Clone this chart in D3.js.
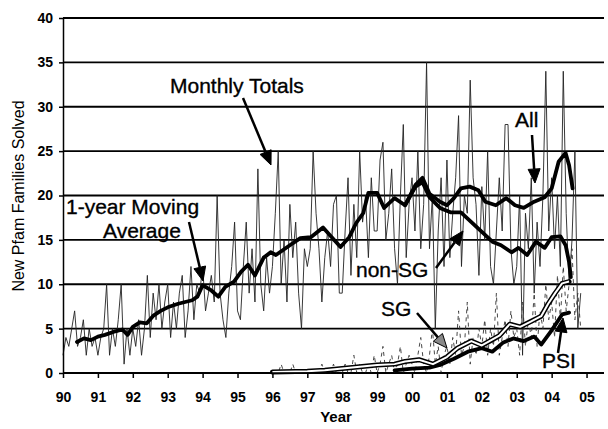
<!DOCTYPE html>
<html>
<head>
<meta charset="utf-8">
<script src="https://cdn.jsdelivr.net/npm/d3@7"></script>
<style>
  body { margin: 0; background: #fff; }
  svg { font-family: "Liberation Sans", Arial, sans-serif; }
  .axis text { font-size: 14px; font-weight: bold; fill: #000; }
  .axis path, .axis line { stroke: #000; stroke-width: 1.5; }
  .note { font-size: 21px; fill: #000; stroke: #000; stroke-width: 0.35; }
</style>
</head>
<body>
<script>
// monthly totals, all families, Jan 1990 onwards
const monthlyAll = [
  2, 4, 3, 5, 7, 3, 4, 6, 2, 5, 3, 4,
  2, 4, 5, 10, 2, 5, 3, 6, 10, 1, 5, 2,
  5, 3, 6, 2, 5, 11, 4, 9, 6, 10, 5, 8,
  10, 4, 8, 5, 9, 11, 4, 7, 12, 6, 10, 9,
  12, 7, 9, 11, 8, 20, 9, 6, 4, 9, 12, 17,
  7, 6, 12, 17, 9, 14, 8, 23, 10, 7, 13, 9,
  12, 18, 25, 10, 15, 8, 19, 13, 17, 9, 5, 14,
  12, 14, 25, 18, 14, 8, 13, 16, 12, 19, 20, 9,
  9, 16, 22, 11, 19, 13, 25, 17, 20, 13, 22, 16,
  16, 24, 26, 15, 18, 23, 14, 10, 20, 28, 13, 19,
  22, 16, 25, 14, 19, 35, 14, 20, 5, 16, 22, 12,
  24, 13, 18, 22, 29, 12, 20, 18, 33, 22, 19, 11,
  21, 15, 25, 12, 10, 16, 22, 16, 28, 28, 14, 10,
  12, 20, 2, 18, 14, 22, 9, 17, 12, 20, 34, 16,
  22, 14, 20, 12, 34, 18, 10, 15, 25, 5, 9
];

// monthly totals, structural genomics, Jan 1996 onwards
const monthlySG = [
  0, 0, 0, 1, 0, 0, 0, 1, 0, 0, 0, 0,
  0, 0, 0, 0, 0, 1, 0, 0, 0, 1, 0, 0,
  0, 1, 0, 0, 2, 0, 1, 0, 0, 1, 0, 2,
  0, 1, 3, 0, 1, 2, 0, 1, 3, 0, 1, 2,
  1, 0, 2, 4, 1, 0, 2, 5, 1, 3, 0, 2,
  3, 1, 4, 2, 7, 2, 3, 8, 1, 4, 2, 5,
  3, 6, 2, 5, 3, 9, 2, 4, 6, 3, 7, 4,
  5, 2, 8, 3, 6, 4, 9, 3, 7, 5, 10, 6,
  8, 4, 11, 6, 12, 7, 10, 14, 6, 9, 5
];

// 1-year moving averages [year, value]
const avgAll = [
  [1990.4, 3.5], [1990.6, 3.9], [1990.8, 3.7], [1991.0, 4.1], [1991.2, 4.3],
  [1991.5, 4.7], [1991.7, 4.9], [1991.85, 4.3], [1992.0, 5.2], [1992.2, 5.7],
  [1992.4, 5.6], [1992.6, 6.5], [1992.8, 7.0], [1993.0, 7.4], [1993.3, 7.8],
  [1993.5, 8.0], [1993.7, 8.2], [1993.85, 8.6], [1994.0, 9.9], [1994.25, 9.3],
  [1994.45, 8.6], [1994.65, 9.7], [1994.9, 10.3], [1995.1, 11.4], [1995.3, 12.2],
  [1995.5, 11.0], [1995.75, 13.0], [1995.95, 13.6], [1996.1, 13.3], [1996.5, 14.4],
  [1996.8, 15.2], [1997.1, 15.3], [1997.45, 16.4], [1997.7, 15.3], [1997.95, 14.2],
  [1998.2, 15.3], [1998.4, 16.9], [1998.6, 18.0], [1998.75, 20.3], [1999.0, 20.3],
  [1999.2, 18.6], [1999.5, 19.7], [1999.8, 18.9], [2000.1, 21.2], [2000.3, 22.0],
  [2000.5, 20.2], [2000.8, 19.3], [2001.0, 18.9], [2001.2, 19.7], [2001.4, 20.8],
  [2001.65, 21.0], [2001.9, 20.6], [2002.1, 19.3], [2002.4, 18.9], [2002.7, 19.7],
  [2002.95, 18.9], [2003.2, 18.6], [2003.5, 19.3], [2003.8, 19.8], [2004.0, 20.8],
  [2004.2, 23.8], [2004.4, 24.8], [2004.5, 23.4], [2004.6, 20.8]
];
const avgNonSG = [
  [1999.8, 18.9], [2000.1, 21.0], [2000.3, 21.5], [2000.5, 19.8], [2000.8, 18.6],
  [2001.1, 18.1], [2001.4, 18.1], [2001.7, 17.0], [2002.0, 15.9], [2002.3, 14.8],
  [2002.55, 14.4], [2002.85, 13.6], [2003.05, 14.1], [2003.3, 13.3], [2003.55, 14.8],
  [2003.8, 14.1], [2004.0, 15.3], [2004.25, 15.4], [2004.4, 14.4], [2004.5, 12.5],
  [2004.55, 10.8]
];
const avgSG = [
  [1996.0, 0.1], [1997.0, 0.2], [1997.5, 0.3], [1998.0, 0.5], [1998.5, 0.7],
  [1999.0, 0.9], [1999.5, 1.0], [1999.8, 1.3], [2000.2, 1.5], [2000.6, 1.0],
  [2001.0, 1.8], [2001.3, 2.8], [2001.7, 3.6], [2002.0, 3.1], [2002.5, 4.2],
  [2002.8, 5.5], [2003.1, 5.2], [2003.4, 5.8], [2003.7, 6.4], [2003.9, 7.8],
  [2004.1, 9.0], [2004.3, 10.1], [2004.5, 10.3]
];
const avgPSI = [
  [1999.5, 0.3], [2000.0, 0.5], [2000.5, 0.6], [2000.8, 0.9], [2001.2, 1.6],
  [2001.6, 2.4], [2002.0, 2.8], [2002.3, 2.4], [2002.6, 3.4], [2002.9, 3.9],
  [2003.2, 3.6], [2003.5, 4.1], [2003.7, 3.2], [2004.0, 4.8], [2004.3, 6.6],
  [2004.5, 6.8]
];

const years = d3.range(1990, 2006);
const yearLabels = ["90", "91", "92", "93", "94", "95", "96", "97", "98", "99", "00", "01", "02", "03", "04", "05"];
const yTicks = [0, 5, 10, 15, 20, 25, 30, 35, 40];

var width = 608, height = 429;
var svg = d3.select("body").append("svg")
  .attr("width", width)
  .attr("height", height);

var x = d3.scaleLinear().domain([1990, 2005.5]).range([63, 604]);
var y = d3.scaleLinear().domain([0, 40]).range([373, 18]);

// gridlines
svg.append("g")
  .selectAll("line")
  .data(yTicks)
  .enter().append("line")
  .attr("x1", x(1990)).attr("x2", x(2005.5))
  .attr("y1", d => y(d)).attr("y2", d => y(d))
  .attr("stroke", "#000")
  .attr("stroke-width", 1.8);

var line = d3.line()
  .x(d => x(d[0]))
  .y(d => y(d[1]));

// monthly totals
svg.append("path")
  .datum(monthlyAll.map((v, i) => [1990 + i / 12, v]))
  .attr("fill", "none")
  .attr("stroke", "#222")
  .attr("stroke-width", 0.9)
  .attr("d", line);

svg.append("path")
  .datum(monthlySG.map((v, i) => [1996 + i / 12, v]))
  .attr("fill", "none")
  .attr("stroke", "#333")
  .attr("stroke-width", 0.9)
  .attr("stroke-dasharray", "4,4")
  .attr("d", line);

// moving averages
function thick(data, w) {
  svg.append("path")
    .datum(data)
    .attr("fill", "none")
    .attr("stroke", "#000")
    .attr("stroke-width", w)
    .attr("stroke-linejoin", "round")
    .attr("stroke-linecap", "round")
    .attr("d", line);
}
thick(avgAll, 3.8);
thick(avgNonSG, 3.8);
thick(avgPSI, 3.8);

// SG drawn as a hollow double line
thick(avgSG, 5);
svg.append("path")
  .datum(avgSG)
  .attr("fill", "none")
  .attr("stroke", "#fff")
  .attr("stroke-width", 2)
  .attr("stroke-linejoin", "round")
  .attr("d", line);

// axes
var xAxis = d3.axisBottom(x)
  .tickValues(years)
  .tickFormat((d, i) => yearLabels[i])
  .tickSize(5)
  .tickSizeOuter(0);
var gx = svg.append("g")
  .attr("class", "axis")
  .attr("transform", "translate(0," + y(0) + ")")
  .call(xAxis);
gx.select(".domain").attr("d", "M" + x(1990) + ",0H" + x(2005.5));
gx.selectAll("text").attr("y", 29).attr("dy", 0);

var yAxis = d3.axisLeft(y)
  .tickValues(yTicks)
  .tickSize(4)
  .tickPadding(6)
  .tickSizeOuter(0);
svg.append("g")
  .attr("class", "axis")
  .attr("transform", "translate(" + x(1990) + ",0)")
  .call(yAxis);

// axis titles
svg.append("text")
  .attr("transform", "translate(24,196) rotate(-90)")
  .attr("text-anchor", "middle")
  .style("font-size", "16px")
  .text("New Pfam Families Solved");

svg.append("text")
  .attr("x", 336)
  .attr("y", 422)
  .attr("text-anchor", "middle")
  .style("font-size", "15px")
  .style("font-weight", "bold")
  .text("Year");

// annotations
var notes = [
  { t: "Monthly Totals", x: 170, y: 93 },
  { t: "1-year Moving", x: 66, y: 214 },
  { t: "Average", x: 103, y: 238 },
  { t: "All", x: 515, y: 127 },
  { t: "non-SG", x: 356, y: 277 },
  { t: "SG", x: 381, y: 316 },
  { t: "PSI", x: 542, y: 368 }
];
svg.selectAll(".note")
  .data(notes)
  .enter().append("text")
  .attr("class", "note")
  .attr("x", d => d.x)
  .attr("y", d => d.y)
  .text(d => d.t);

var arrows = [
  { x1: 243, y1: 98, x2: 271, y2: 165, fill: "#000" },
  { x1: 189, y1: 222, x2: 203, y2: 281, fill: "#000" },
  { x1: 532, y1: 135, x2: 535, y2: 183, fill: "#000" },
  { x1: 436, y1: 268, x2: 463, y2: 231, fill: "#000" },
  { x1: 417, y1: 313, x2: 447, y2: 348, fill: "#888" },
  { x1: 558, y1: 353, x2: 563, y2: 318, fill: "#000" }
];
arrows.forEach(a => {
  var ang = Math.atan2(a.y2 - a.y1, a.x2 - a.x1);
  var hl = 14, hw = 6;
  var bx = a.x2 - hl * Math.cos(ang), by = a.y2 - hl * Math.sin(ang);
  svg.append("line")
    .attr("x1", a.x1).attr("y1", a.y1)
    .attr("x2", bx).attr("y2", by)
    .attr("stroke", "#000")
    .attr("stroke-width", 2.5);
  var px = -Math.sin(ang) * hw, py = Math.cos(ang) * hw;
  svg.append("path")
    .attr("d", "M" + a.x2 + "," + a.y2 + "L" + (bx + px) + "," + (by + py) + "L" + (bx - px) + "," + (by - py) + "Z")
    .attr("fill", a.fill)
    .attr("stroke", "#000")
    .attr("stroke-width", 1);
});
</script>
</body>
</html>
